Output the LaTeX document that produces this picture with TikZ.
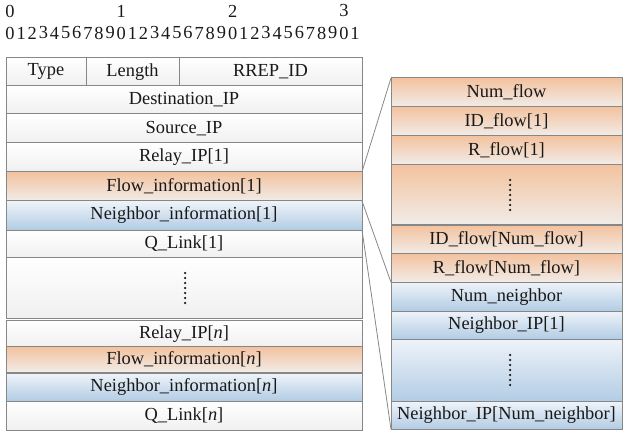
\documentclass[tikz,border=0pt]{standalone}
\usepackage{fontspec}
\setmainfont{Liberation Serif}
\definecolor{linegray}{RGB}{135,135,135}
\definecolor{txt}{RGB}{25,25,25}
\definecolor{orangetop}{RGB}{243,194,158}
\definecolor{orangebot}{RGB}{241,236,232}
\definecolor{bluetop}{RGB}{238,243,249}
\definecolor{bluebot}{RGB}{178,204,228}
\definecolor{whitebot}{RGB}{240,240,240}
\tikzset{
  cell/.style={draw=linegray, line width=1pt, inner sep=0pt, outer sep=0pt,
    anchor=north west, text=txt, font=\fontsize{18.4}{20}\selectfont},
  cellw/.style={cell, top color=white, bottom color=whitebot},
  cello/.style={cell, top color=orangetop, bottom color=orangebot},
  cellb/.style={cell, top color=bluetop, bottom color=bluebot},
  digit/.style={inner sep=0pt, text=txt, font=\fontsize{18.4}{20}\selectfont},
  link/.style={draw=linegray, line width=0.8pt},
  vdot/.style={fill=txt}
}
\begin{document}
\begin{tikzpicture}[x=1pt,y=-1pt]
\useasboundingbox (0,0) rectangle (627,433);

% bit ruler
\foreach \i in {0,...,31}{
  \pgfmathtruncatemacro\d{mod(\i,10)}
  \node[digit] (bit\i) at ({10+\i*11.13},33) {\d};
}
\foreach \i/\t in {0/0,10/1,20/2,30/3}{
  \node[digit] (dec\t) at ({10+\i*11.13},11) {\t};
}

% main packet
\node[cellw, minimum width=80pt,  minimum height=28pt] (type) at (6,57.7) {Type};
\node[cellw, minimum width=93pt,  minimum height=28pt] (len) at (86,57.7) {Length};
\node[cellw, minimum width=183pt, minimum height=28pt] (rrep) at (179,57.7) {RREP\_ID};
\node[cellw, minimum width=356pt, minimum height=28.3pt] (dst) at (6,85.7) {Destination\_IP};
\node[cellw, minimum width=356pt, minimum height=29pt] (src) at (6,114) {Source\_IP};
\node[cellw, minimum width=356pt, minimum height=28.7pt] (relay1) at (6,143) {Relay\_IP[1]};
\node[cello, minimum width=356pt, minimum height=29.3pt] (flow1) at (6,171.7) {Flow\_information[1]};
\node[cellb, minimum width=356pt, minimum height=29pt] (nbr1) at (6,201) {Neighbor\_information[1]};
\node[cellw, minimum width=356pt, minimum height=27.7pt] (q1) at (6,230) {Q\_Link[1]};
\node[cellw, minimum width=356pt, minimum height=60.3pt] (gap) at (6,257.7) {};
\node[cellw, minimum width=356pt, minimum height=26pt] (relayn) at (6,320.7) {Relay\_IP[\textit{n}]};
\node[cello, minimum width=356pt, minimum height=25.3pt] (flown) at (6,346.7) {Flow\_information[\textit{n}]};
\node[cellb, minimum width=356pt, minimum height=27.5pt] (nbrn) at (6,373.5) {Neighbor\_information[\textit{n}]};
\node[cellw, minimum width=356pt, minimum height=29pt] (qn) at (6,401) {Q\_Link[\textit{n}]};
\foreach \k in {0,...,6} \fill[vdot] (185,{273+\k*5}) circle (1.25pt);

% expanded flow / neighbor information
\node[cello, minimum width=231pt, minimum height=28.7pt] (numflow) at (391,78) {Num\_flow};
\node[cello, minimum width=231pt, minimum height=29pt] (idflow1) at (391,106.7) {ID\_flow[1]};
\node[cello, minimum width=231pt, minimum height=28.6pt] (rflow1) at (391,135.7) {R\_flow[1]};
\node[cello, minimum width=231pt, minimum height=60pt] (flowgap) at (391,164.3) {};
\node[cello, minimum width=231pt, minimum height=27.8pt] (idflown) at (391,225.5) {ID\_flow[Num\_flow]};
\node[cello, minimum width=231pt, minimum height=29pt] (rflown) at (391,253.3) {R\_flow[Num\_flow]};
\node[cellb, minimum width=231pt, minimum height=28.7pt] (numnbr) at (391,282.3) {Num\_neighbor};
\node[cellb, minimum width=231pt, minimum height=28.3pt] (nip1) at (391,311) {Neighbor\_IP[1]};
\node[cellb, minimum width=231pt, minimum height=62.4pt] (nbrgap) at (391,339.3) {};
\node[cellb, minimum width=231pt, minimum height=27.6pt] (nipn) at (391,401.7) {Neighbor\_IP[Num\_neighbor]};
\foreach \k in {0,...,6} \fill[vdot] (510,{180+\k*5}) circle (1.25pt);
\foreach \k in {0,...,6} \fill[vdot] (510,{355+\k*5}) circle (1.25pt);

% expansion lines
\draw[link] (flow1.north east) -- (numflow.north west);
\draw[link] (flow1.south east) -- (rflown.south west);
\draw[link] (nbr1.south east) -- (nipn.south west);
\end{tikzpicture}
\end{document}
